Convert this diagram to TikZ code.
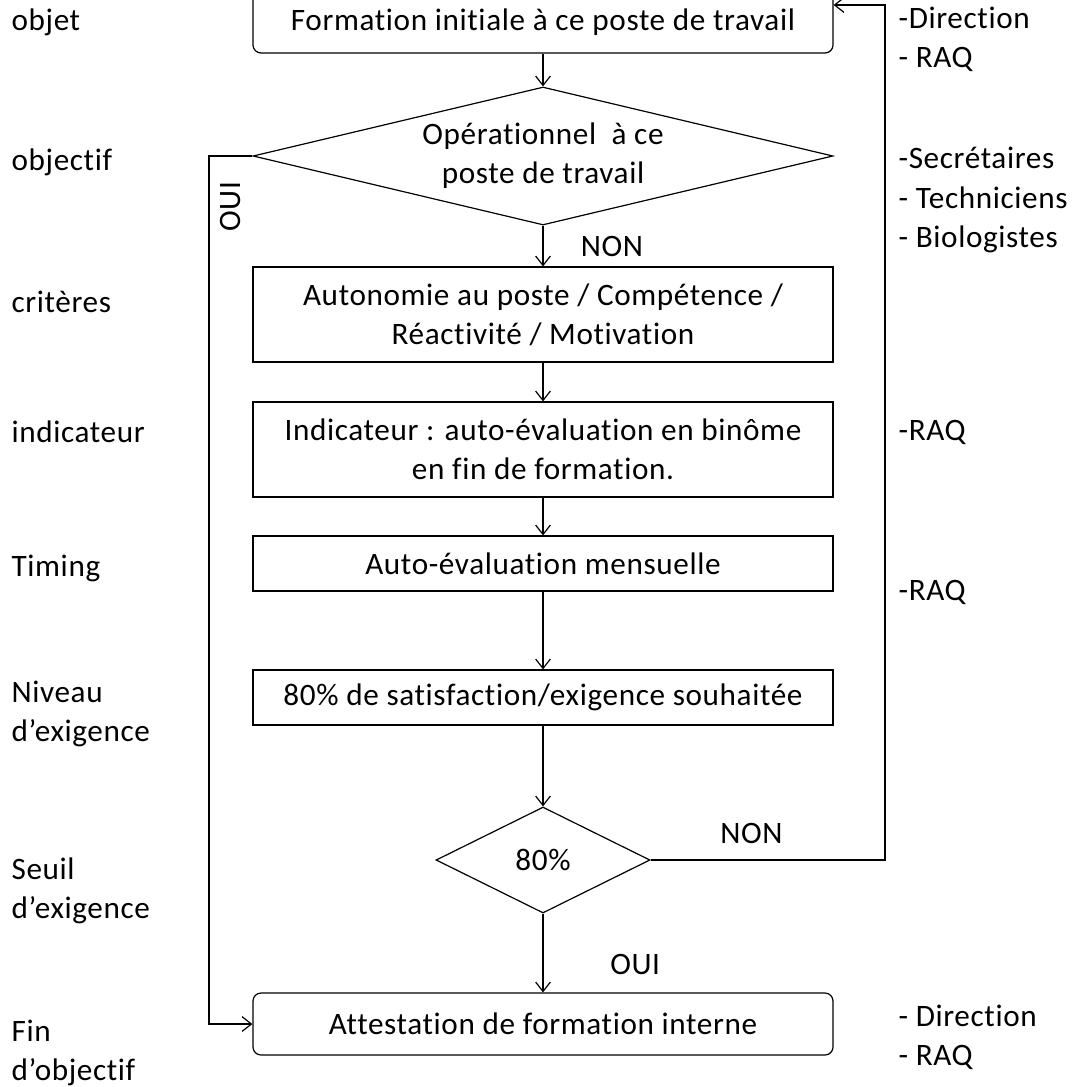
\documentclass[tikz,border=0pt]{standalone}
\usepackage{fontspec}
\setmainfont{Carlito}[LetterSpace=2,Ligatures=NoCommon]
\usetikzlibrary{arrows.meta,shapes.geometric}
\begin{document}
\begin{tikzpicture}[x=0.75pt,y=-0.75pt,>={Straight Barb[length=7pt,width=11pt]},line width=0.9pt,
        every node/.style={font=\fontsize{23.4pt}{29.5pt}\selectfont,inner sep=0pt},
        box/.style={draw,align=center,minimum width=435pt},
        rbox/.style={box,rounded corners=6pt},
        test/.style={draw,diamond,align=center},
        lab/.style={anchor=west,align=left}]
        \useasboundingbox(0,0)rectangle(1087,1086);
        \node[rbox,minimum height=46.5pt](form)at(543,22){Formation initiale à ce poste de travail};
        \node[test,minimum width=435pt,minimum height=103.5pt,aspect=4.2](oper)at(543,156){Opérationnel\ \ à ce\\poste de travail};
        \node[box,minimum height=71.25pt](crit)at(543,314.5){Autonomie au poste / Compétence /\\Réactivité / Motivation};
        \node[box,minimum height=71.25pt](indic)at(543,449.5){Indicateur : auto-évaluation en binôme\\en fin de formation.};
        \node[box,minimum height=41.25pt](mens)at(543,563.5){Auto-évaluation mensuelle};
        \node[box,minimum height=41.25pt](exig)at(543,697.5){80\% de satisfaction/exigence souhaitée};
        \node[test,minimum width=160.5pt,minimum height=79.5pt,aspect=2](seuil)at(543,860){80\%};
        \node[rbox,minimum height=46.5pt](attest)at(543,1024){Attestation de formation interne};
        \coordinate(ouicoin)at(209,156);
        \coordinate(noncoin)at(885,860);
        \draw[->](form)--(oper);
        \draw[->](oper)--node[right,xshift=28pt]{NON}(crit);
        \draw[->](crit)--(indic);
        \draw[->](indic)--(mens);
        \draw[->](mens)--(exig);
        \draw[->](exig)--(seuil);
        \draw[->](seuil)--node[pos=.65,right,xshift=50pt]{OUI}(attest);
        \draw[->](oper.west)--(ouicoin)|-(attest.west);
        \node[rotate=90](ouilab)at(230,207){OUI};
        \draw[->](seuil.east)--node[pos=.43,above,yshift=12pt]{NON}(noncoin)|-([yshift=12.75pt]form.east);
        % colonne de gauche
        \node[lab](objet)at(11,22){objet};
        \node[lab](objectif)at(11,162){objectif};
        \node[lab](criteres)at(11,302){critères};
        \node[lab](indicateur)at(11,432){indicateur};
        \node[lab](timing)at(11,568){Timing};
        \node[lab](niveau)at(11,714){Niveau\\d’exigence};
        \node[lab](seuillab)at(11,891){Seuil\\d’exigence};
        \node[lab](fin)at(11,1053){Fin\\d’objectif};
        % colonne de droite
        \node[lab](dirA)at(898,39){-Direction\\- RAQ};
        \node[lab](perso)at(898,200){-Secrétaires\\- Techniciens\\- Biologistes};
        \node[lab](raqA)at(898,432){-RAQ};
        \node[lab](raqB)at(898,592){-RAQ};
        \node[lab](dirB)at(898,1037){- Direction\\- RAQ};
    \end{tikzpicture}
\end{document}
